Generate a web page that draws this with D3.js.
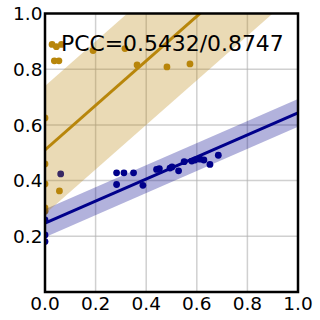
<!DOCTYPE html>
<html><head><meta charset="utf-8">
<script src="https://cdn.jsdelivr.net/npm/d3@7"></script>
<style>html,body{margin:0;padding:0;background:#fff;}svg{display:block;}</style>
</head><body>
<script>
const ticks = [0.0, 0.2, 0.4, 0.6, 0.8, 1.0];
const tickLabels = ["0.0", "0.2", "0.4", "0.6", "0.8", "1.0"];
const goldX = [0.028, 0.045, 0.065, 0.037, 0.055, 0.190, 0.316, 0.364, 0.482, 0.573, 0.0, 0.0, 0.0, 0.057, 0.0, 0.0];
const goldY = [0.889, 0.881, 0.889, 0.830, 0.830, 0.867, 0.874, 0.815, 0.808, 0.819, 0.625, 0.460, 0.388, 0.363, 0.302, 0.290];
const navyX = [0.062, 0.0, 0.0, 0.0, 0.283, 0.312, 0.350, 0.283, 0.387, 0.441, 0.452, 0.494, 0.502, 0.528, 0.550, 0.580, 0.593, 0.613, 0.628, 0.652, 0.685];
const navyY = [0.424, 0.259, 0.205, 0.181, 0.428, 0.428, 0.428, 0.386, 0.383, 0.440, 0.443, 0.445, 0.449, 0.435, 0.468, 0.470, 0.474, 0.477, 0.474, 0.458, 0.491];
const goldFit = {intercept: 0.51, slope: 0.80, band: 0.23};
const navyFit = {intercept: 0.247, slope: 0.396, band: 0.05};
const pccText = "PCC=0.5432/0.8747";

const W = 320, H = 320;
const L = 45, R = 298, T = 13.5, B = 292;
const x = d3.scaleLinear().domain([0, 1]).range([L, R]);
const y = d3.scaleLinear().domain([0, 1]).range([B, T]);
const GOLD = "#b8860b", NAVY = "#00008b";

const svg = d3.select("body").append("svg").attr("width", W).attr("height", H);
const defs = svg.append("defs");
defs.append("clipPath").attr("id", "clip").append("rect")
  .attr("x", L).attr("y", T).attr("width", R - L).attr("height", B - T);

// grid
const grid = svg.append("g");
ticks.slice(1, -1).forEach(t => {
  grid.append("line").attr("x1", x(t)).attr("x2", x(t)).attr("y1", T).attr("y2", B)
    .attr("stroke", "#b0b0b0").attr("stroke-opacity", 0.6).attr("stroke-width", 1.5);
  grid.append("line").attr("y1", y(t)).attr("y2", y(t)).attr("x1", L).attr("x2", R)
    .attr("stroke", "#b0b0b0").attr("stroke-opacity", 0.6).attr("stroke-width", 1.5);
});

const plot = svg.append("g").attr("clip-path", "url(#clip)");

// points
plot.selectAll("circle.navy").data(navyX.map((v, i) => [v, navyY[i]])).join("circle")
  .attr("class", "navy").attr("cx", d => x(d[0])).attr("cy", d => y(d[1])).attr("r", 3.4).attr("fill", NAVY);
plot.selectAll("circle.gold").data(goldX.map((v, i) => [v, goldY[i]])).join("circle")
  .attr("class", "gold").attr("cx", d => x(d[0])).attr("cy", d => y(d[1])).attr("r", 3.4).attr("fill", GOLD);

// bands
function band(fit, color) {
  const xs = [0, 1];
  const area = d3.area().x(d => x(d)).y0(d => y(fit.intercept + fit.slope * d - fit.band))
    .y1(d => y(fit.intercept + fit.slope * d + fit.band));
  plot.append("path").datum(xs).attr("d", area).attr("fill", color).attr("fill-opacity", 0.3);
}
band(navyFit, NAVY);
band(goldFit, GOLD);

function fitLine(fit, color) {
  const line = d3.line().x(d => x(d)).y(d => y(fit.intercept + fit.slope * d));
  plot.append("path").datum([0, 1]).attr("d", line).attr("fill", "none")
    .attr("stroke", color).attr("stroke-width", 3);
}
fitLine(navyFit, NAVY);
fitLine(goldFit, GOLD);

// frame
svg.append("rect").attr("x", L).attr("y", T).attr("width", R - L).attr("height", B - T)
  .attr("fill", "none").attr("stroke", "#000").attr("stroke-width", 2.5);

// tick labels
const font = "'DejaVu Sans', sans-serif";
svg.append("g").selectAll("text").data(ticks).join("text")
  .attr("x", d => x(d)).attr("y", 310).attr("text-anchor", "middle")
  .attr("font-family", font).attr("font-size", 18.5).attr("fill", "#000")
  .text((d, i) => tickLabels[i]);
svg.append("g").selectAll("text").data(ticks.slice(1)).join("text")
  .attr("x", L - 2.5).attr("y", d => y(d)).attr("dy", "0.36em").attr("text-anchor", "end")
  .attr("font-family", font).attr("font-size", 18.5).attr("fill", "#000")
  .text((d, i) => tickLabels[i + 1]);

svg.append("text").attr("x", 61).attr("y", 50.5)
  .attr("font-family", font).attr("font-size", 21.9).attr("fill", "#000").text(pccText);
</script>
</body></html>
